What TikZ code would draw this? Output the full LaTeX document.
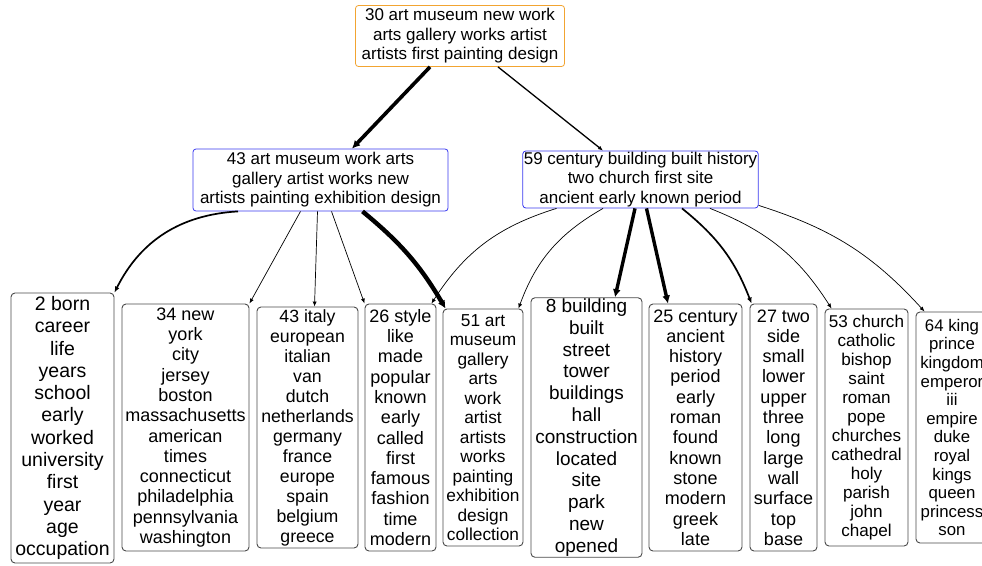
\documentclass[tikz,border=0pt]{standalone}
\usepackage{fontspec}
\setmainfont{Liberation Sans}
\usetikzlibrary{arrows.meta}

\definecolor{rootline}{HTML}{F2A431}
\definecolor{midline}{HTML}{3A3AF0}
\definecolor{leafline}{HTML}{4A4A4A}

\tikzset{
    root/.style={draw=rootline, line width=0.8pt, rounded corners=3pt, align=center,
        inner sep=1pt, font=\fontsize{17}{19.5}\selectfont},
    mid/.style={draw=midline, line width=0.8pt, rounded corners=3pt, align=center,
        inner sep=1pt, font=\fontsize{17}{19.5}\selectfont},
    leaf/.style 2 args={draw=leafline, line width=0.9pt, rounded corners=4pt, align=center,
        inner sep=1pt, font=\fontsize{#1}{#2}\selectfont},
    thin/.style={line width=0.7pt, -{Latex[length=5pt,width=4pt]}},
    medium/.style={line width=1.7pt, -{Latex[length=6pt,width=5pt]}},
    heavy/.style={line width=3.6pt, -{Latex[length=8pt,width=8pt]}},
}

\begin{document}
\begin{tikzpicture}[x=1pt, y=1pt]
    \fill[white] (0,0) rectangle (982,-565);
    \useasboundingbox (0,0) rectangle (982,-565);

    % Root topic
    \node[root, minimum width=209pt, minimum height=61pt] (t30) at (460,-36)
        {30 art museum new work\\arts gallery works artist\\artists first painting design};

    % Second level
    \node[mid, minimum width=255pt, minimum height=62pt] (m43) at (320.5,-180)
        {43 art museum work arts\\gallery artist works new\\artists painting exhibition design};
    \node[mid, minimum width=235pt, minimum height=57pt] (m59) at (640.5,-179.5)
        {59 century building built history\\two church first site\\ancient early known period};

    % Leaves
    \node[leaf={19.5}{22.3}, minimum width=103pt, minimum height=270pt] (n2) at (62.5,-428)
        {2 born\\career\\life\\years\\school\\early\\worked\\university\\first\\year\\age\\occupation};
    \node[leaf={18}{20.3}, minimum width=127pt, minimum height=247pt] (n34) at (185.5,-427.5)
        {34 new\\york\\city\\jersey\\boston\\massachusetts\\american\\times\\connecticut\\philadelphia\\pennsylvania\\washington};
    \node[leaf={17.7}{20}, minimum width=101pt, minimum height=241pt] (n43) at (307.5,-427.5)
        {43 italy\\european\\italian\\van\\dutch\\netherlands\\germany\\france\\europe\\spain\\belgium\\greece};
    \node[leaf={18}{20.3}, minimum width=71pt, minimum height=247pt] (n26) at (400.5,-427.5)
        {26 style\\like\\made\\popular\\known\\early\\called\\first\\famous\\fashion\\time\\modern};
    \node[leaf={17.3}{19.5}, minimum width=80pt, minimum height=237pt] (n51) at (483,-427.5)
        {51 art\\museum\\gallery\\arts\\work\\artist\\artists\\works\\painting\\exhibition\\design\\collection};
    \node[leaf={19}{21.8}, minimum width=111pt, minimum height=257pt] (n8) at (586.5,-427.5)
        {8 building\\built\\street\\tower\\buildings\\hall\\construction\\located\\site\\park\\new\\opened};
    \node[leaf={18}{20.3}, minimum width=93pt, minimum height=247pt] (n25) at (695.5,-427.5)
        {25 century\\ancient\\history\\period\\early\\roman\\found\\known\\stone\\modern\\greek\\late};
    \node[leaf={18}{20.3}, minimum width=67pt, minimum height=247pt] (n27) at (783.5,-427.5)
        {27 two\\side\\small\\lower\\upper\\three\\long\\large\\wall\\surface\\top\\base};
    \node[leaf={17.1}{19}, minimum width=83pt, minimum height=237pt] (n53) at (866.5,-427.5)
        {53 church\\catholic\\bishop\\saint\\roman\\pope\\churches\\cathedral\\holy\\parish\\john\\chapel};
    \node[leaf={16.8}{18.6}, minimum width=72pt, minimum height=231pt] (n64) at (952,-427.5)
        {64 king\\prince\\kingdom\\emperor\\iii\\empire\\duke\\royal\\kings\\queen\\princess\\son};

    % Root to second level
    \draw[heavy] ([xshift=-30pt]t30.south) -- ([xshift=31.5pt]m43.north);
    \draw[thin, line width=1.3pt] ([xshift=38pt]t30.south) -- ([xshift=-37.5pt]m59.north);

    % From 43
    \draw[medium] ([xshift=-82.5pt]m43.south) to[bend right=30] (n2.north east);
    \draw[thin] ([xshift=-20pt]m43.south) -- (n34.north east);
    \draw[thin] ([xshift=-3pt]m43.south) -- ([xshift=7pt]n43.north);
    \draw[thin] ([xshift=11pt]m43.south) -- (n26.north west);
    \draw[heavy, line width=4.4pt] ([xshift=42pt]m43.south) to[bend left=10] ([xshift=3pt]n51.north west);

    % From 59
    \draw[thin] ([xshift=-84pt]m59.south) to[bend right=20] ([xshift=-5pt]n26.north east);
    \draw[thin] ([xshift=-37.5pt]m59.south) to[bend right=20] ([xshift=-5pt]n51.north east);
    \draw[heavy, line width=3.4pt] ([xshift=-5.5pt]m59.south) -- ([xshift=28.5pt]n8.north);
    \draw[heavy, line width=3.4pt] ([xshift=6pt]m59.south) -- ([xshift=-27.5pt]n25.north);
    \draw[medium] ([xshift=41.5pt]m59.south) to[bend left=15] ([xshift=2pt]n27.north west);
    \draw[thin] ([xshift=69.5pt]m59.south) to[bend left=18] ([xshift=7pt]n53.north west);
    \draw[thin] ([yshift=3pt]m59.south east) to[bend left=15] ([xshift=9pt]n64.north west);
\end{tikzpicture}
\end{document}
